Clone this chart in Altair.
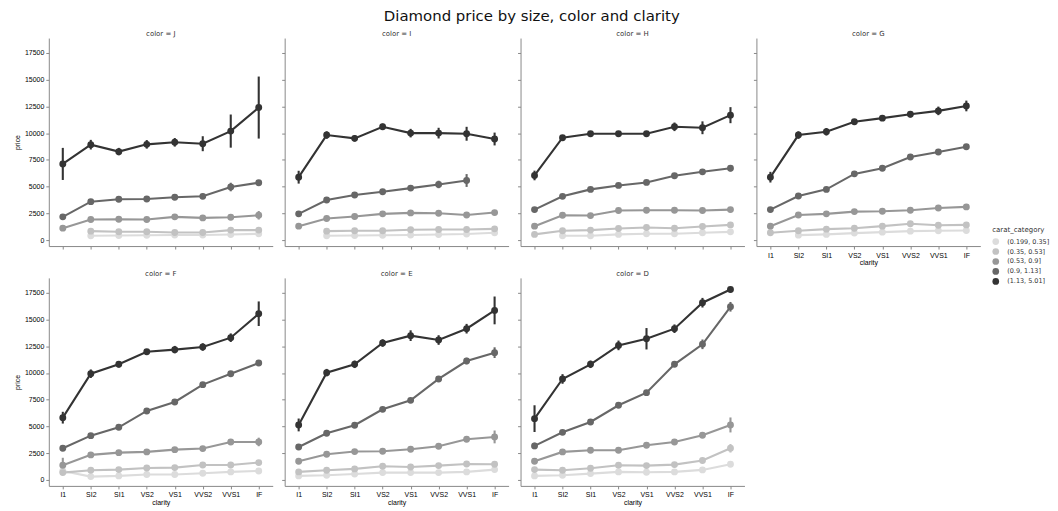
import altair as alt
import pandas as pd

clarity = ["I1", "SI2", "SI1", "VS2", "VS1", "VVS2", "VVS1", "IF"]
colors = ["J", "I", "H", "G", "F", "E", "D"]
categories = ["(0.199, 0.35]", "(0.35, 0.53]", "(0.53, 0.9]", "(0.9, 1.13]", "(1.13, 5.01]"]
grays = ["#dcdcdc", "#c2c2c2", "#979797", "#676767", "#333333"]

N = None
# mean price per clarity, one list per carat category (light -> dark)
price_J = [
    [N, 400, 420, 450, 470, 480, 520, 590],
    [N, 836, 775, 775, 712, 712, 930, 930],
    [1115, 1920, 1950, 1920, 2170, 2075, 2140, 2320],
    [2170, 3590, 3810, 3840, 4000, 4090, 4960, 5360],
    [7120, 8920, 8270, 8950, 9140, 9010, 10190, 12390],
]
price_I = [
    [N, 400, 420, 450, 480, 520, 560, 680],
    [N, 836, 870, 870, 960, 990, 990, 1050],
    [1300, 2010, 2200, 2450, 2540, 2510, 2350, 2570],
    [2450, 3750, 4210, 4520, 4860, 5200, 5570, N],
    [5880, 9820, 9510, 10590, 10000, 10000, 9940, 9450],
]
price_H = [
    [N, 400, 400, 530, 590, 590, 680, 770],
    [530, 870, 930, 1080, 1180, 1110, 1270, 1420],
    [1300, 2320, 2290, 2760, 2790, 2790, 2760, 2850],
    [2850, 4090, 4740, 5110, 5390, 6010, 6380, 6720],
    [6040, 9570, 9940, 9940, 9940, 10590, 10500, 11680],
]
price_G = [
    [N, 460, 530, 650, 740, 836, 870, 900],
    [680, 870, 1020, 1110, 1300, 1520, 1390, 1420],
    [1300, 2350, 2450, 2660, 2690, 2790, 3000, 3100],
    [2850, 4120, 4740, 6190, 6720, 7770, 8240, 8730],
    [5880, 9820, 10130, 11060, 11400, 11770, 12080, 12540],
]
price_F = [
    [840, 310, 375, 500, 500, 620, 750, 840],
    [685, 900, 965, 1120, 1150, 1400, 1400, 1620],
    [1370, 2340, 2550, 2620, 2830, 2930, 3550, 3550],
    [2960, 4140, 4920, 6450, 7290, 8910, 9930, 10930],
    [5820, 9930, 10810, 11990, 12180, 12430, 13300, 15540],
]
price_E = [
    [375, 435, 560, 685, 685, 685, 750, 965],
    [750, 900, 1030, 1280, 1210, 1340, 1490, 1460],
    [1740, 2400, 2650, 2680, 2870, 3150, 3800, 4020],
    [3080, 4360, 5110, 6600, 7440, 9440, 11120, 11900],
    [5140, 10030, 10810, 12800, 13490, 13080, 14140, 15850],
]
price_D = [
    [375, 435, 590, 750, 715, 750, 935, 1460],
    [965, 900, 1090, 1370, 1340, 1430, 1810, 2960],
    [1740, 2620, 2770, 2770, 3240, 3550, 4170, 5140],
    [3180, 4450, 5420, 6980, 8160, 10810, 12680, 16190],
    [5730, 9440, 10810, 12580, 13200, 14140, 16570, 17810],
]

# half-width of the error bars, same layout
err_J = [
    [0, 40, 40, 40, 40, 40, 60, 80],
    [0, 60, 60, 60, 60, 60, 80, 100],
    [100, 100, 100, 100, 100, 100, 150, 400],
    [150, 150, 150, 150, 150, 250, 400, 200],
    [1500, 450, 350, 400, 400, 700, 1550, 2900],
]
err_I = [
    [0, 40, 40, 40, 40, 40, 60, 80],
    [0, 60, 60, 60, 60, 60, 80, 100],
    [100, 100, 100, 100, 100, 100, 100, 200],
    [150, 150, 150, 150, 200, 350, 600, 0],
    [600, 350, 300, 300, 400, 500, 650, 600],
]
err_H = [
    [0, 40, 40, 40, 40, 40, 60, 80],
    [60, 60, 60, 60, 60, 60, 80, 100],
    [100, 100, 100, 100, 100, 100, 100, 150],
    [150, 100, 100, 100, 100, 150, 250, 300],
    [450, 200, 200, 200, 250, 400, 600, 750],
]
err_G = [
    [0, 40, 40, 40, 40, 40, 60, 80],
    [60, 60, 60, 60, 60, 60, 80, 100],
    [100, 100, 100, 100, 100, 100, 100, 100],
    [150, 100, 100, 100, 100, 100, 100, 100],
    [500, 350, 350, 200, 250, 300, 400, 500],
]
err_F = [
    [300, 40, 40, 40, 40, 40, 60, 80],
    [60, 60, 60, 60, 60, 60, 80, 100],
    [700, 100, 100, 100, 100, 100, 100, 400],
    [150, 100, 100, 100, 100, 100, 250, 200],
    [550, 400, 300, 250, 350, 350, 400, 1150],
]
err_E = [
    [40, 40, 40, 40, 40, 40, 60, 80],
    [60, 60, 60, 60, 60, 60, 80, 100],
    [100, 100, 100, 100, 100, 100, 150, 600],
    [150, 100, 100, 100, 100, 150, 300, 500],
    [600, 350, 350, 350, 500, 450, 450, 1300],
]
err_D = [
    [40, 40, 40, 40, 40, 40, 60, 150],
    [60, 60, 60, 60, 60, 60, 150, 400],
    [100, 100, 100, 100, 100, 100, 200, 700],
    [300, 100, 100, 100, 100, 150, 450, 450],
    [1250, 450, 350, 450, 1000, 400, 450, 250],
]

prices = dict(J=price_J, I=price_I, H=price_H, G=price_G, F=price_F, E=price_E, D=price_D)
errs = dict(J=err_J, I=err_I, H=err_H, G=err_G, F=err_F, E=err_E, D=err_D)

rows = []
for c in colors:
    for k, cat in enumerate(categories):
        for j, cl in enumerate(clarity):
            v = prices[c][k][j]
            if v is None:
                continue
            rows.append(dict(color=c, clarity=cl, carat_category=cat, order=k,
                             price=v, err=errs[c][k][j]))
df = pd.DataFrame(rows)

FONT = "DejaVu Sans"
W, H = 225, 209
ydom = [-560, 18890]
yticks = [0, 2500, 5000, 7500, 10000, 12500, 15000, 17500]

color_enc = alt.Color("carat_category:N",
                      scale=alt.Scale(domain=categories, range=grays),
                      legend=alt.Legend(title="carat_category", symbolType="circle",
                                        symbolStrokeWidth=0,
                                        symbolSize=45, labelFontSize=6.5, titleFontSize=7,
                                        titleFontWeight="normal", labelFont=FONT, titleFont=FONT,
                                        titleColor="#333", labelColor="#333", labelOffset=8,
                                        rowPadding=3, orient="none", legendX=948, legendY=189))

def panel(c, i):
    col = i % 4
    bottom = c in ("G", "F", "E", "D")
    xaxis = alt.Axis(title="clarity" if bottom else None, labels=bottom, labelAngle=0,
                     tickSize=3, labelFontSize=7, titleFontSize=7, titleFontWeight="normal",
                     labelPadding=2, titlePadding=1)
    yaxis = alt.Axis(title="price" if col == 0 else None, labels=(col == 0), values=yticks,
                     format="d", tickSize=3, labelFontSize=7, titleFontSize=7,
                     labelOverlap=False, titleFontWeight="normal", labelPadding=2,
                     titlePadding=4, grid=False)
    base = alt.Chart(df).transform_filter(alt.datum.color == c).transform_calculate(
        lo="datum.price - datum.err", hi="datum.price + datum.err")
    yscale = alt.Scale(domain=ydom, nice=False, zero=False)
    x = alt.X("clarity:N", sort=clarity, scale=alt.Scale(type="point", domain=clarity, padding=0.5),
              axis=xaxis)
    y = alt.Y("price:Q", scale=yscale, axis=yaxis)
    ylo = alt.Y("lo:Q", scale=yscale, axis=yaxis)
    line = base.mark_line(strokeWidth=2.1).encode(x=x, y=y, color=color_enc)
    rule = base.mark_rule(strokeWidth=2.1).encode(x=x, y=ylo, y2="hi:Q", color=color_enc)
    pts = base.mark_circle(size=48, opacity=1).encode(x=x, y=y, color=color_enc)
    return alt.layer(line, rule, pts).properties(
        width=W, height=H,
        view=alt.ViewBackground(stroke="transparent", strokeWidth=0),
        title=alt.TitleParams(f"color = {c}", fontSize=7, fontWeight="normal", font=FONT,
                              color="#333", offset=1))

charts = [panel(c, i) for i, c in enumerate(colors)]

chart = alt.concat(*charts, columns=4, align="each",
                   spacing={"row": 4, "column": 8}).properties(
    title=alt.TitleParams("Diamond price by size, color and clarity", fontSize=15,
                          fontWeight="normal", font=FONT, anchor="middle", color="#111",
                          offset=6)
).configure_view(strokeWidth=0, stroke="transparent").configure_axis(
    domainColor="#555", tickColor="#555", labelColor="#333", titleColor="#333",
    labelFont=FONT, titleFont=FONT, domainWidth=1.2
).configure(padding={"left": 5, "right": 0, "top": 0, "bottom": 0})

chart.save("out.html", embed_options={"renderer": "svg", "actions": False})
